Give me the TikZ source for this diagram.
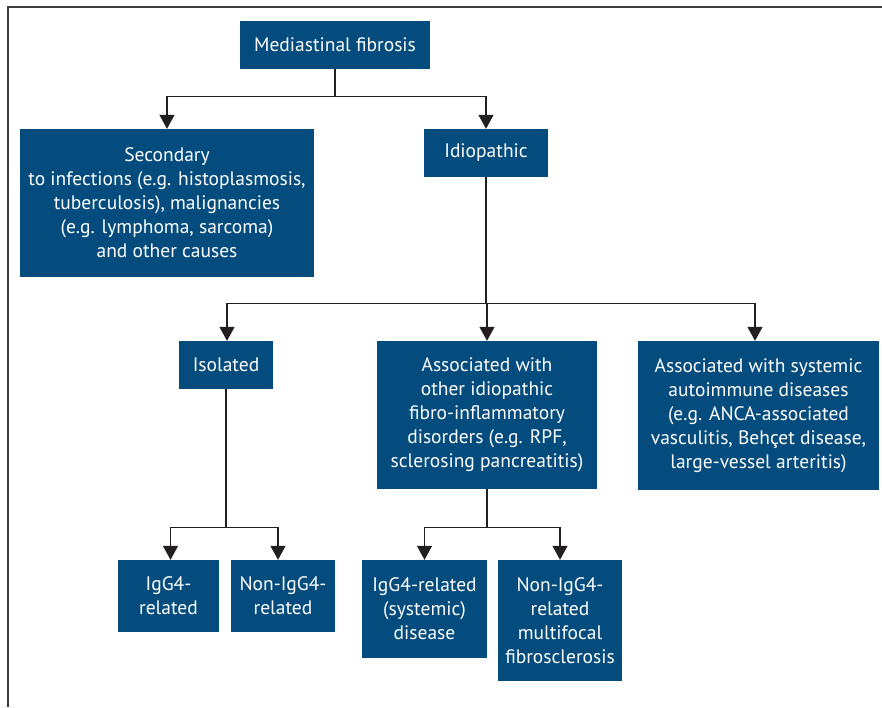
\documentclass[tikz,border=0pt]{standalone}
\usepackage{fontspec}
\setmainfont{PT Sans}
\usetikzlibrary{arrows.meta}
\definecolor{boxblue}{RGB}{4,76,125}
\definecolor{linegray}{RGB}{35,31,32}
\definecolor{framegray}{RGB}{60,60,60}
\tikzset{
  box/.style={fill=boxblue, text=white, inner sep=0pt, align=center,
    font=\fontsize{19.5}{24}\selectfont},
  conn/.style={draw=linegray, line width=1.3pt},
  arr/.style={conn, -{Triangle[width=15pt,length=14pt]}}
}
\begin{document}
\begin{tikzpicture}[x=1pt,y=-1pt]
\useasboundingbox (0,0) rectangle (882,707);
\draw[framegray, line width=1.3pt] (8,707) -- (8,7) -- (882,7);

\node[box, minimum width=190pt, minimum height=48pt] (mf) at (335,45) {Mediastinal fibrosis};
\node[box, minimum width=294pt, minimum height=148pt] (sec) at (167,203) {Secondary\\to infections (e.g. histoplasmosis,\\tuberculosis), malignancies\\(e.g. lymphoma, sarcoma)\\and other causes};
\node[box, minimum width=124pt, minimum height=48pt] (idio) at (486,153) {Idiopathic};
\node[box, minimum width=94pt, minimum height=48pt] (iso) at (226,365) {Isolated};
\node[box, minimum width=220pt, minimum height=148pt] (aoth) at (487,415) {Associated with\\other idiopathic\\fibro-inflammatory\\disorders (e.g. RPF,\\sclerosing pancreatitis)};
\node[box, minimum width=241pt, minimum height=149pt] (asys) at (758.5,415.5) {Associated with systemic\\autoimmune diseases\\(e.g. ANCA-associated\\vasculitis, Behçet disease,\\large-vessel arteritis)};
\node[box, minimum width=101pt, minimum height=72pt] (ig1) at (168.5,596) {IgG4-\\related};
\node[box, minimum width=104pt, minimum height=72pt] (ig2) at (283,596) {Non-IgG4-\\related};
\node[box, minimum width=125pt, minimum height=98pt] (ig3) at (424.5,609) {IgG4-related\\(systemic)\\disease};
\node[box, minimum width=124pt, minimum height=121pt] (ig4) at (560,620.5) {Non-IgG4-\\related\\multifocal\\fibrosclerosis};

\draw[conn] (mf.south) -- ++(0,27) coordinate (j1);
\draw[arr] (j1) -| (sec.north);
\draw[arr] (j1) -| (idio.north);

\draw[conn] (idio.south) -- ++(0,126) coordinate (j2);
\draw[arr] (j2) -| ([xshift=1pt]iso.north);
\draw[arr] (j2) -| (aoth.north);
\draw[arr] (j2) -| ([xshift=-3.5pt]asys.north);

\draw[conn] (iso.south) -- ++(0,138) coordinate (j3);
\draw[arr] (j3) -| ([xshift=2pt]ig1.north);
\draw[arr] (j3) -| ([xshift=-5pt]ig2.north);

\draw[conn] (aoth.south) -- ++(0,38) coordinate (j4);
\draw[arr] (j4) -| (ig3.north);
\draw[arr] (j4) -| (ig4.north);
\end{tikzpicture}
\end{document}
